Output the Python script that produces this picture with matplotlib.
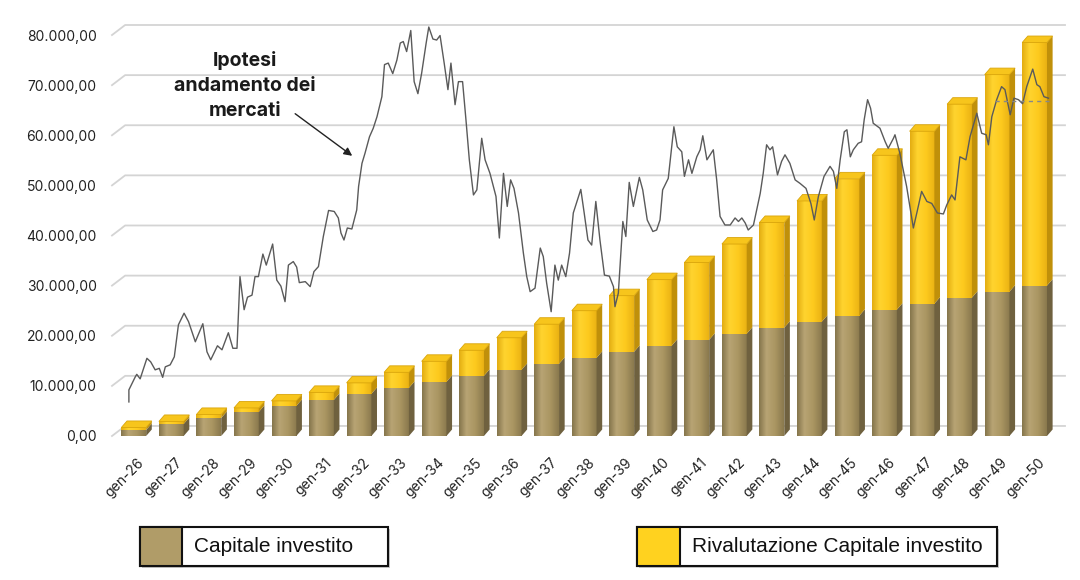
import numpy as np
import matplotlib
matplotlib.use("Agg")
import matplotlib.pyplot as plt
from matplotlib.colors import LinearSegmentedColormap
from matplotlib.patches import Polygon, Rectangle

# --- dati ---
anni = ["gen-26", "gen-27", "gen-28", "gen-29", "gen-30", "gen-31", "gen-32",
        "gen-33", "gen-34", "gen-35", "gen-36", "gen-37", "gen-38", "gen-39",
        "gen-40", "gen-41", "gen-42", "gen-43", "gen-44", "gen-45", "gen-46",
        "gen-47", "gen-48", "gen-49", "gen-50"]
capitale = [1200, 2400, 3600, 4800, 6000, 7200, 8400, 9600, 10800, 12000,
            13200, 14400, 15600, 16800, 18000, 19200, 20400, 21600, 22800,
            24000, 25200, 26400, 27600, 28800, 30000]
rivalutazione = [500, 500, 700, 800, 1000, 1500, 2200, 3100, 4100, 5100,
                 6400, 7900, 9400, 11200, 13200, 15400, 17900, 21000, 24100,
                 27300, 30800, 34400, 38600, 43300, 48500]

# andamento ipotetico dei mercati (tempo in anni da gen-26, valore)
mercato_t = [-0.22, -0.22, -0.05, -0.01, 0.08, 0.26, 0.36, 0.48, 0.59, 0.68,
             0.75, 0.88, 0.99, 1.10, 1.25, 1.37, 1.55, 1.75, 1.86, 1.96,
             2.14, 2.26, 2.43, 2.55, 2.66, 2.74, 2.85, 2.94, 3.06, 3.14,
             3.23, 3.35, 3.44, 3.61, 3.72, 3.83, 3.94, 4.03, 4.16, 4.25,
             4.32, 4.48, 4.61, 4.71, 4.83, 4.96, 5.10, 5.25, 5.36, 5.43,
             5.51, 5.60, 5.72, 5.85, 5.90, 5.99, 6.07, 6.19, 6.29, 6.39,
             6.52, 6.59, 6.69, 6.81, 6.92, 7.01, 7.09, 7.18, 7.29, 7.38,
             7.48, 7.58, 7.70, 7.77, 7.88, 7.98, 8.07, 8.18, 8.28, 8.36,
             8.47, 8.56, 8.67, 8.76, 8.85, 8.96, 9.05, 9.18, 9.27, 9.40,
             9.56, 9.65, 9.76, 9.86, 9.95, 10.04, 10.16, 10.29, 10.38, 10.47,
             10.60, 10.74, 10.82, 10.91, 11.03, 11.13, 11.22, 11.31, 11.42, 11.52,
             11.62, 11.82, 11.91, 12.01, 12.11, 12.22, 12.33, 12.45, 12.58, 12.69,
             12.73, 12.82, 12.94, 13.02, 13.11, 13.22, 13.38, 13.47, 13.59, 13.74,
             13.84, 13.93, 14.00, 14.15, 14.30, 14.39, 14.51, 14.58, 14.69, 14.78,
             14.91, 15.00, 15.07, 15.18, 15.35, 15.44, 15.53, 15.66, 15.80, 15.93,
             16.02, 16.11, 16.20, 16.28, 16.42, 16.60, 16.68, 16.77, 16.86, 16.93,
             17.06, 17.17, 17.26, 17.39, 17.53, 17.66, 17.82, 17.95, 18.04, 18.15,
             18.30, 18.46, 18.55, 18.64, 18.73, 18.84, 18.91, 19.00, 19.08, 19.21,
             19.30, 19.37, 19.46, 19.54, 19.61, 19.79, 19.93, 20.01, 20.15, 20.19,
             20.32, 20.50, 20.68, 20.79, 20.90, 21.04, 21.17, 21.32, 21.48, 21.57,
             21.70, 21.79, 21.92, 22.08, 22.19, 22.37, 22.50, 22.62, 22.68, 22.77,
             22.90, 23.03, 23.12, 23.26, 23.36, 23.48, 23.59, 23.70, 23.86, 23.97,
             24.05, 24.16, 24.28]
mercato_v = [6800, 9200, 11800, 12300, 11400, 15500, 14800, 13200, 13500, 11700,
             13800, 14200, 15800, 22200, 24500, 22800, 18800, 22400, 16800, 15200,
             18000, 17200, 20600, 17500, 17500, 31800, 25200, 27700, 28100, 31800,
             31800, 36300, 34100, 38300, 31100, 29900, 26800, 34100, 34800, 33700,
             30600, 30800, 29800, 32800, 33800, 39800, 45000, 44800, 43500, 40500,
             39100, 41500, 41300, 45100, 49800, 54400, 56400, 59700, 61400, 63700,
             67700, 74100, 74400, 72300, 75000, 78400, 78700, 76700, 80900, 70700,
             68300, 72400, 78400, 81600, 79200, 79000, 79900, 74400, 69100, 74400,
             66100, 70700, 70700, 63100, 55100, 48100, 49100, 59400, 55100, 52400,
             47800, 39500, 52400, 45800, 51100, 49400, 44500, 36500, 31800, 28800,
             29500, 37500, 35800, 30500, 24800, 34100, 31100, 34100, 31800, 36500,
             44500, 49200, 44500, 39100, 38100, 46800, 39100, 32100, 31900, 29800,
             25800, 28500, 42800, 39800, 50600, 45800, 51600, 49100, 43100, 40800,
             41100, 43100, 49100, 51400, 61700, 57700, 56700, 51800, 55100, 52400,
             55700, 57100, 59900, 55100, 57100, 51100, 43800, 42100, 42100, 43500,
             42800, 43500, 42500, 41100, 42100, 48400, 52400, 58100, 57100, 57700,
             52100, 54800, 56100, 54400, 51100, 50400, 49400, 46400, 43100, 47800,
             51800, 53800, 52800, 49400, 55100, 60700, 61100, 55700, 57100, 58400,
             58700, 63100, 67100, 65400, 62400, 61400, 58700, 57400, 59400, 60100,
             56400, 49800, 41500, 45100, 48800, 46800, 46400, 44500, 44300, 46100,
             48100, 47100, 55700, 55100, 59700, 64400, 60400, 60100, 58100, 63700,
             67100, 69700, 69100, 64100, 67400, 67100, 66300, 69700, 73200, 70100,
             69700, 67700, 67400]
tratteggio_t = [22.85, 24.30]
tratteggio_v = [66800, 66800]

yticks = [0, 10000, 20000, 30000, 40000, 50000, 60000, 70000, 80000]


def fmt_it(v):
    s = f"{v:,.2f}"
    return s.replace(",", "X").replace(".", ",").replace("X", ".")


fig = plt.figure(figsize=(10.8, 5.8), dpi=100)
ax = fig.add_axes([112 / 1080, 144 / 580, 953 / 1080, 411 / 580])
XMIN, XMAX, YMAX = -0.67, 24.72, 82000

# griglia "3D" sulla parete di fondo
gdx, gdy = 0.35, 2000
for v in yticks:
    ax.plot([XMIN, XMIN + gdx, XMAX], [v, v + gdy, v + gdy], color="#d4d4d4",
            lw=1.3, zorder=0, clip_on=False)

# barre pseudo-3D
brown = LinearSegmentedColormap.from_list(
    "brown", [(0, "#85754c"), (0.3, "#b8a474"), (0.65, "#aa9662"), (1, "#8a794e")])
yellow = LinearSegmentedColormap.from_list(
    "yellow", [(0, "#e3ad12"), (0.3, "#ffd42f"), (0.65, "#fdca1e"), (1, "#eab214")])
grad = np.linspace(0, 1, 64).reshape(1, -1)
wl, wr, dx, dy = 0.42, 0.24, 0.15, 1300

x = np.arange(len(anni))
for i in x:
    c0 = capitale[i]
    c1 = capitale[i] + rivalutazione[i]
    x0, x1 = i - wl, i + wr
    for (b, t, cm, side) in [(0, c0, brown, "#6f613f"), (c0, c1, yellow, "#c0900a")]:
        ax.imshow(grad, extent=[x0, x1, b, t], aspect="auto", cmap=cm,
                  interpolation="bilinear", zorder=2)
        ax.add_patch(Polygon([(x1, b), (x1 + dx, b + dy), (x1 + dx, t + dy), (x1, t)],
                             closed=True, facecolor=side, edgecolor="none", zorder=2))
    ax.add_patch(Polygon([(x0, c1), (x0 + dx, c1 + dy), (x1 + dx, c1 + dy), (x1, c1)],
                         closed=True, facecolor="#f7c51c", edgecolor="#d9a50c",
                         lw=0.6, zorder=3))

# andamento dei mercati
ax.plot(mercato_t, mercato_v, color="#5a5a5a", lw=1.0, zorder=5)
ax.plot(tratteggio_t, tratteggio_v, color="#888888", lw=1.0, ls=(0, (3, 3)), zorder=5)

ax.text(2.88, 70000, "Ipotesi\nandamento dei\nmercati", ha="center", va="center",
        fontsize=14, fontweight="bold", family=["Inter", "DejaVu Sans"],
        linespacing=1.5, color="#1a1a1a", zorder=6)
ax.annotate("", xy=(5.73, 55900), xytext=(4.21, 64300),
            arrowprops=dict(arrowstyle="-|>", color="#222222", lw=1.0,
                            shrinkA=0, shrinkB=0, mutation_scale=12),
            zorder=6)

ax.set_xlim(XMIN, XMAX)
ax.set_ylim(0, YMAX)
ax.set_yticks(yticks)
ax.set_yticklabels([fmt_it(v) for v in yticks], family=["Inter", "DejaVu Sans"],
                   fontsize=10, color="#222222")
ax.set_xticks(x)
ax.set_xticklabels(anni, rotation=45, ha="right", va="top", rotation_mode="anchor",
                   family=["Inter", "DejaVu Sans"], fontsize=10, color="#222222")
ax.tick_params(axis="y", length=0, pad=11)
ax.tick_params(axis="x", length=0, pad=14)
for s in ax.spines.values():
    s.set_visible(False)

# legenda a due riquadri
legenda = [("Capitale investito", "#b09c68", 140, 388, 182),
           ("Rivalutazione Capitale investito", "#ffd21f", 637, 997, 680)]
for testo, col, xa, xb, xs in legenda:
    y0, h = (580 - 566) / 580, 39 / 580
    fig.patches.append(Rectangle((xa / 1080 + 0.002, y0 - 0.004), (xb - xa) / 1080, h,
                                 transform=fig.transFigure, facecolor="#c8c8c8",
                                 edgecolor="none", zorder=1))
    fig.patches.append(Rectangle((xa / 1080, y0), (xb - xa) / 1080, h,
                                 transform=fig.transFigure, facecolor="white",
                                 edgecolor="#111111", lw=1.5, zorder=2))
    fig.patches.append(Rectangle((xa / 1080, y0), (xs - xa) / 1080, h,
                                 transform=fig.transFigure, facecolor=col,
                                 edgecolor="#111111", lw=1.5, zorder=3))
    fig.text((xs + 12) / 1080, y0 + h / 2, testo, ha="left", va="center",
             fontsize=15, family=["Liberation Sans", "DejaVu Sans"], color="#111111")

fig.savefig("out.png", dpi=100, facecolor="white")
